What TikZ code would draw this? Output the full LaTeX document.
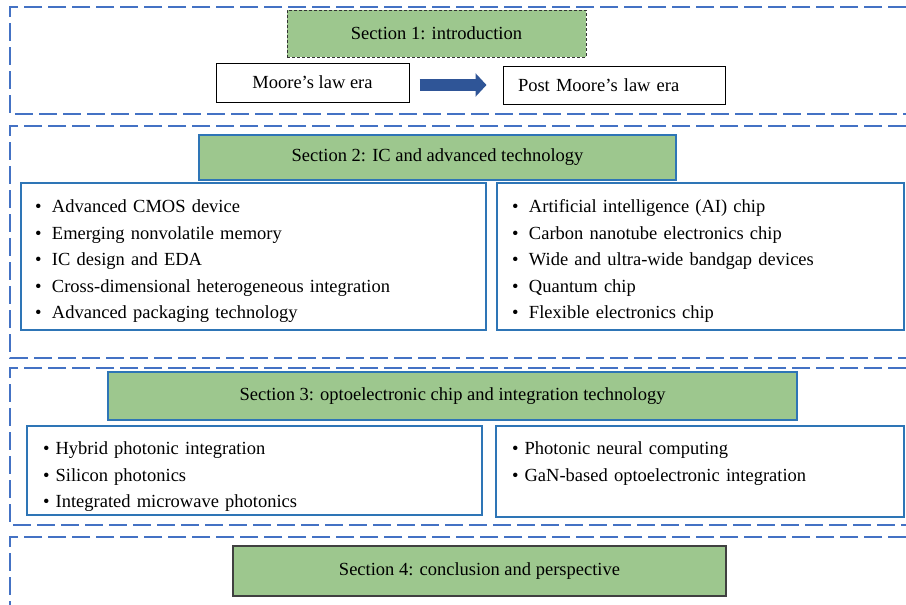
\documentclass[tikz,border=0pt]{standalone}
\usepackage{fontspec}
\setmainfont{Liberation Serif}
\usetikzlibrary{arrows.meta}

\definecolor{framebl}{RGB}{68,114,196}
\definecolor{boxbl}{RGB}{46,117,182}
\definecolor{secgreen}{RGB}{157,199,142}
\definecolor{arrowbl}{RGB}{47,85,151}

\newcommand{\blt}{\makebox[17pt][l]{\textbullet}}
\newcommand{\topstrut}[1]{\rule{0pt}{#1}}

\tikzset{
  sectframe/.style={framebl, line width=1.5pt, dash pattern=on 18pt off 6pt},
  secbox/.style={draw=boxbl, fill=secgreen, line width=1.2pt},
  listbox/.style={draw=boxbl, line width=1.2pt, align=left, inner ysep=0pt},
  erabox/.style={draw=black, line width=1pt},
}

\begin{document}
\begin{tikzpicture}[x=1pt, y=-1pt,
    every node/.style={font=\fontsize{18.5}{26.5}\selectfont, inner sep=0pt}]
            \useasboundingbox (0,0) rectangle (906,605);

            % Marcos de las secciones
            \draw[sectframe] (906,7) -- (10,7) -- (10,114) -- (906,114);
            \draw[sectframe] (906,126) -- (10,126) -- (10,358) -- (906,358);
            \draw[sectframe] (906,368) -- (10,368) -- (10,525) -- (906,525);
            \draw[sectframe] (906,537) -- (10,537) -- (10,605);

            % Seccion 1
            \node[fill=secgreen, draw=black!80, line width=0.9pt, dash pattern=on 3pt off 2pt,
                  minimum width=299pt, minimum height=47pt] (sec1) at (436.5,33.5) {Section 1: introduction};
            \node[erabox, minimum width=193pt, minimum height=39pt] (moore) at (312.5,82.5) {Moore’s law era};
            \node[erabox, minimum height=38pt, text width=192pt, inner xsep=15pt, align=left] (post) at (614,85) {Post Moore’s law era};
            % Flecha
            \draw[arrowbl, line width=12pt, -{Triangle[width=23pt, length=11pt]}]
                ([xshift=10pt]moore.east |- post.west) -- ([xshift=-16pt]post.west);

            % Seccion 2
            \node[secbox, minimum width=477pt, minimum height=45pt] (sec2) at (437.5,157.5) {Section 2: IC and advanced technology};
            \node[listbox, minimum height=147pt, text width=437pt, inner xsep=14pt] (ic) at (253.5,256.5)
                {\topstrut{22pt}\blt Advanced CMOS device\\ \blt Emerging nonvolatile memory\\ \blt IC design and EDA\\
                 \blt Cross-dimensional heterogeneous integration\\ \blt Advanced packaging technology};
            \node[listbox, minimum height=147pt, text width=377pt, inner xsep=15pt] (chip) at (700.5,256.5)
                {\topstrut{22pt}\blt Artificial intelligence (AI) chip\\ \blt Carbon nanotube electronics chip\\
                 \blt Wide and ultra-wide bandgap devices\\ \blt Quantum chip\\ \blt Flexible electronics chip};

            % Seccion 3
            \node[secbox, minimum width=689pt, minimum height=48pt] (sec3) at (452.5,396) {Section 3: optoelectronic chip and integration technology};
            \node[listbox, minimum height=89pt, text width=423pt, inner xsep=16pt] (photo) at (254.5,470.5)
                {\topstrut{25pt}\textbullet\ Hybrid photonic integration\\ \textbullet\ Silicon photonics\\ \textbullet\ Integrated microwave photonics};
            \node[listbox, minimum height=91pt, text width=376pt, inner xsep=16pt] (neural) at (700,471.5)
                {\topstrut{27pt}\textbullet\ Photonic neural computing\\ \textbullet\ GaN-based optoelectronic integration\\ \strut};

            % Seccion 4
            \node[fill=secgreen, draw=black!75, line width=1.5pt, minimum width=493pt, minimum height=50pt] (sec4) at (479.5,571)
                {Section 4: conclusion and perspective};
        \end{tikzpicture}
\end{document}
